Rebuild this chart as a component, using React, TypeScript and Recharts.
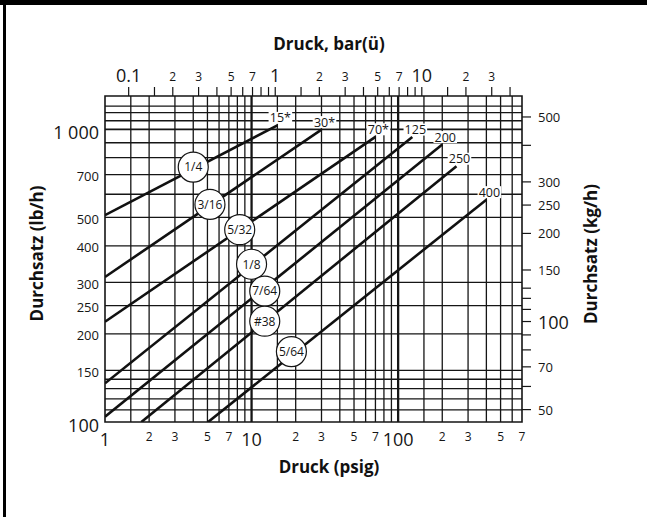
import React from "react";
import {
  ComposedChart,
  Line,
  Scatter,
  XAxis,
  YAxis,
  ReferenceLine,
  ReferenceArea,
  Label,
} from "recharts";

const FONT = '"Open Sans", "DejaVu Sans", sans-serif';
const INK = "#151515";
const LB_PER_KG = 2.20462;
const PSI_PER_BAR = 14.5038;

// one line per max pressure rating (psig, lb/h)
const lineNames = ["15*", "30*", "70*", "125", "200", "250", "400"];
const startPsi = [1, 1, 1, 1, 1, 1.77, 5.05];
const startFlow = [509, 313, 220, 135.6, 104.2, 100, 100];
const endPsi = [15, 30, 70, 125, 200, 250, 400];
const endFlow = [1032, 998, 943, 941, 887, 748, 575];

// orifice size bubbles sitting on the lines
const orifices = ["1/4", "3/16", "5/32", "1/8", "7/64", "#38", "5/64"];
const orificePsi = [4.0, 5.2, 8.3, 10.0, 12.3, 12.3, 18.7];
const orificeFlow = [743, 554, 454, 346, 280, 221, 174];

// grid
const psiGrid = [1.5, 2, 3, 4, 5, 6, 7, 8, 9, 10, 15, 20, 30, 40, 50, 60, 70, 80, 90, 100, 150, 200, 300, 400, 500, 600];
const lbGrid = [110, 120, 130, 140, 150, 200, 250, 300, 400, 500, 600, 700, 800, 900, 1000, 1070, 1140, 1200];
const thickPsi = [10, 100];
const thickLb = [1000];

// axes
const psiDomain = [1, 700];
const lbDomain = [100, 1300];
const barDomain = [psiDomain[0] / PSI_PER_BAR, psiDomain[1] / PSI_PER_BAR];
const kgDomain = [lbDomain[0] / LB_PER_KG, lbDomain[1] / LB_PER_KG];
const psiTicks = [1, 2, 3, 5, 7, 10, 20, 30, 50, 70, 100, 200, 300, 500, 700];
const psiTickLabels = ["1", "2", "3", "5", "7", "10", "2", "3", "5", "7", "100", "2", "3", "5", "7"];
const lbTicks = [100, 150, 200, 250, 300, 400, 500, 700, 1000];
const lbTickLabels = ["100", "150", "200", "250", "300", "400", "500", "700", "1 000"];
const barTicks = [0.1, 0.15, 0.2, 0.3, 0.4, 0.5, 0.6, 0.7, 0.8, 0.9, 1, 1.5, 2, 3, 4, 5, 6, 7, 8, 9, 10, 15, 20, 30, 40];
const barTickLabels = ["0.1", "", "2", "3", "", "5", "", "7", "", "", "1", "", "2", "3", "", "5", "", "7", "", "", "10", "", "2", "3", ""];
const kgTicks = [50, 60, 70, 80, 90, 100, 110, 120, 130, 150, 200, 250, 300, 400, 500];
const kgTickLabels = ["50", "", "70", "", "", "100", "", "", "", "150", "200", "250", "300", "", "500"];

const isDecade = (v: number) => Math.abs(Math.log10(v) - Math.round(Math.log10(v))) < 1e-6;

const lineData = lineNames.map((_, i) => [
  { p: startPsi[i], lb: startFlow[i] },
  { p: endPsi[i], lb: endFlow[i] },
]);
const endData = lineNames.map((name, i) => ({ p: endPsi[i], lb: endFlow[i], name }));
const orificeData = orifices.map((name, i) => ({ p: orificePsi[i], lb: orificeFlow[i], name }));
// invisible series so the bar axis gets a domain of its own
const barSpan = barDomain.map((bar) => ({ bar, lb: lbDomain[0] }));

const psiTick = (props: any) => {
  const { x, y, payload } = props;
  const i = psiTicks.indexOf(payload.value);
  const big = isDecade(payload.value);
  return (
    <text x={x} y={y} dy={big ? 15.5 : 10.5} textAnchor="middle" fontFamily={FONT} fontSize={big ? 18 : 12} fill={INK}>
      {psiTickLabels[i]}
    </text>
  );
};

const barTick = (props: any) => {
  const { x, y, payload } = props;
  const i = barTicks.findIndex((t) => Math.abs(t - payload.value) < 1e-9);
  const big = isDecade(payload.value);
  return (
    <text x={x} y={y} dy={big ? -3.3 : -4.3} textAnchor="middle" fontFamily={FONT} fontSize={big ? 18 : 12} fill={INK}>
      {barTickLabels[i]}
    </text>
  );
};

const lbTick = (props: any) => {
  const { x, y, payload } = props;
  const i = lbTicks.indexOf(payload.value);
  const big = isDecade(payload.value);
  return (
    <text x={x} y={y} dy={big ? 10 : 6.5} textAnchor="end" fontFamily={FONT} fontSize={big ? 18 : 13} fill={INK}>
      {lbTickLabels[i]}
    </text>
  );
};

const kgTick = (props: any) => {
  const { x, y, payload } = props;
  const i = kgTicks.indexOf(payload.value);
  const big = isDecade(payload.value);
  return (
    <text x={x} y={y} dy={big ? 7.5 : 5} textAnchor="start" fontFamily={FONT} fontSize={big ? 18 : 13} fill={INK}>
      {kgTickLabels[i]}
    </text>
  );
};

const title = (text: string, dx: number, dy: number, rotate = false) => (props: any) => {
  const vb = props.viewBox || { x: 0, y: 0 };
  const x = vb.x + dx;
  const y = vb.y + dy;
  return (
    <text
      x={x}
      y={y}
      textAnchor="middle"
      fontFamily={FONT}
      fontWeight={700}
      fontSize={17}
      fill="#111"
      transform={rotate ? `rotate(-90 ${x} ${y})` : undefined}
    >
      {text}
    </text>
  );
};

const orificeShape = (props: any) => {
  const { cx, cy, payload } = props;
  return (
    <g>
      <circle cx={cx} cy={cy} r={15} fill="#fff" stroke={INK} strokeWidth={1.2} />
      <text x={cx} y={cy} dy={4.3} textAnchor="middle" fontFamily={FONT} fontSize={12} fill={INK}>
        {payload.name}
      </text>
    </g>
  );
};

const endShape = (props: any) => {
  const { cx, cy, payload } = props;
  const w = payload.name.length * 7.2 + 2;
  const tx = cx + 3;
  const ty = cy - 7.5;
  return (
    <g>
      <rect x={tx - w / 2} y={ty - 6} width={w} height={12} fill="#fff" />
      <text x={tx} y={ty} dy={4.5} textAnchor="middle" fontFamily={FONT} fontSize={12.5} fill={INK}>
        {payload.name}
      </text>
    </g>
  );
};

export default function App() {
  return (
    <div style={{ position: "absolute", left: 0, top: 0, width: 647, height: 517, background: "#fff" }}>
      <div style={{ position: "absolute", left: 0, top: 0, width: 647, height: 5, background: "#000" }} />
      <div style={{ position: "absolute", left: 3, top: 0, width: 3, height: 517, background: "#000" }} />
      <ComposedChart width={647} height={517} margin={{ top: 0, right: 0, bottom: 0, left: 0 }}>
        <XAxis
          xAxisId="psi"
          type="number"
          dataKey="p"
          scale="log"
          domain={psiDomain}
          allowDataOverflow
          ticks={psiTicks}
          interval={0}
          height={95}
          axisLine={false}
          tickLine={false}
          tickSize={6}
          tickMargin={2}
          tick={psiTick}
        >
          <Label content={title("Druck (psig)", 224, 51)} />
        </XAxis>
        <XAxis
          xAxisId="bar"
          orientation="top"
          type="number"
          dataKey="bar"
          scale="log"
          domain={barDomain}
          allowDataOverflow
          ticks={barTicks}
          interval={0}
          height={96}
          axisLine={false}
          tickSize={9}
          tickMargin={2}
          tickLine={{ stroke: INK, strokeWidth: 1.2 }}
          tick={barTick}
        >
          <Label content={title("Druck, bar(ü)", 224, 50)} />
        </XAxis>
        <YAxis
          yAxisId="lb"
          type="number"
          dataKey="lb"
          scale="log"
          domain={lbDomain}
          allowDataOverflow
          ticks={lbTicks}
          interval={0}
          width={105}
          axisLine={false}
          tickLine={false}
          tickSize={6}
          tickMargin={0}
          tick={lbTick}
        >
          <Label content={title("Durchsatz (lb/h)", 42.5, 157.5, true)} />
        </YAxis>
        <YAxis
          yAxisId="kg"
          orientation="right"
          type="number"
          scale="log"
          domain={kgDomain}
          allowDataOverflow
          ticks={kgTicks}
          interval={0}
          width={125}
          axisLine={false}
          tickSize={9}
          tickMargin={7}
          tickLine={{ stroke: INK, strokeWidth: 1.2 }}
          tick={kgTick}
        >
          <Label content={title("Durchsatz (kg/h)", 75, 158, true)} />
        </YAxis>

        {psiGrid.map((v) => (
          <ReferenceLine
            key={`x-${v}`}
            xAxisId="psi"
            yAxisId="lb"
            x={v}
            stroke={INK}
            strokeWidth={thickPsi.includes(v) ? 2.3 : 1.3}
          />
        ))}
        {lbGrid.map((v) => (
          <ReferenceLine
            key={`y-${v}`}
            xAxisId="psi"
            yAxisId="lb"
            y={v}
            stroke={INK}
            strokeWidth={thickLb.includes(v) ? 1.9 : 1.3}
          />
        ))}
        <ReferenceArea
          xAxisId="psi"
          yAxisId="lb"
          x1={psiDomain[0]}
          x2={psiDomain[1]}
          y1={lbDomain[0]}
          y2={lbDomain[1]}
          fill="none"
          fillOpacity={0}
          stroke={INK}
          strokeWidth={1.6}
        />

        <Line
          xAxisId="bar"
          yAxisId="lb"
          data={barSpan}
          dataKey="lb"
          stroke="none"
          dot={false}
          activeDot={false}
          legendType="none"
          isAnimationActive={false}
        />
        {lineData.map((data, i) => (
          <Line
            key={lineNames[i]}
            xAxisId="psi"
            yAxisId="lb"
            data={data}
            dataKey="lb"
            type="linear"
            stroke="#111"
            strokeWidth={2.6}
            dot={false}
            activeDot={false}
            isAnimationActive={false}
          />
        ))}

        <Scatter xAxisId="psi" yAxisId="lb" data={endData} dataKey="lb" shape={endShape} isAnimationActive={false} />
        <Scatter xAxisId="psi" yAxisId="lb" data={orificeData} dataKey="lb" shape={orificeShape} isAnimationActive={false} />
      </ComposedChart>
    </div>
  );
}
